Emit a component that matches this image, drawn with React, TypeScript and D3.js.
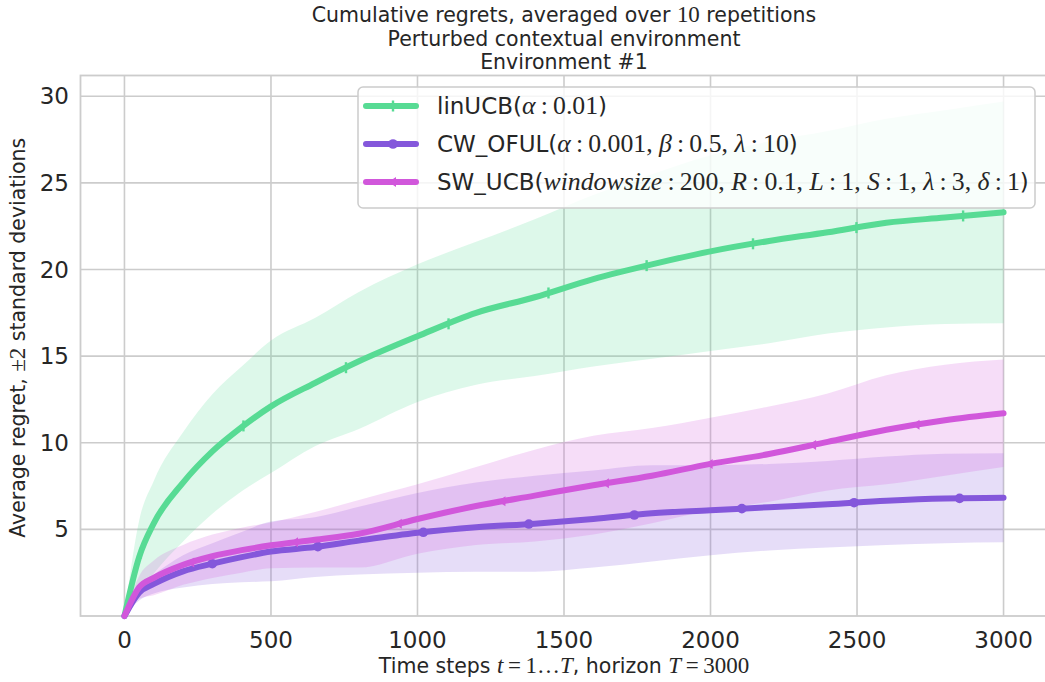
import React from "react";
import * as d3 from "d3";

// Time steps at which the averaged regret curves are sampled
const steps = [0, 50, 100, 200, 300, 400, 500, 650, 800, 1000, 1200, 1400, 1600, 1800, 2000, 2200, 2400, 2600, 2800, 3000];

// linUCB (alpha = 0.01)
const linMean = [0, 3.4, 5.35, 7.7, 9.5, 10.9, 12.1, 13.45, 14.7, 16.15, 17.5, 18.4, 19.45, 20.3, 21.05, 21.65, 22.15, 22.7, 23.0, 23.3];
const linLower = [0, 1.3, 2.45, 4.3, 5.9, 7.2, 8.25, 9.8, 10.8, 12.35, 13.35, 13.85, 14.4, 14.85, 15.3, 15.75, 16.3, 16.65, 16.85, 16.9];
const linUpper = [0, 5.5, 7.8, 10.6, 12.8, 14.4, 15.9, 17.2, 18.7, 20.3, 21.6, 22.9, 24.3, 25.5, 26.6, 27.4, 28.0, 28.7, 29.2, 29.7];

// CW_OFUL
const cwMean = [0, 1.35, 1.85, 2.58, 3.02, 3.4, 3.72, 3.98, 4.35, 4.8, 5.12, 5.33, 5.6, 5.93, 6.1, 6.28, 6.45, 6.65, 6.78, 6.82];
const cwLower = [0, 0.9, 1.3, 1.65, 1.85, 1.95, 2.0, 2.25, 2.4, 2.5, 2.56, 2.56, 2.8, 3.15, 3.5, 3.78, 3.95, 4.1, 4.2, 4.25];
const cwUpper = [0, 1.8, 2.4, 3.5, 4.2, 4.85, 5.45, 5.7, 6.3, 7.1, 7.7, 8.1, 8.4, 8.7, 8.7, 8.78, 8.95, 9.2, 9.36, 9.4];

// SW_UCB
const swMean = [0, 1.65, 2.2, 2.95, 3.45, 3.8, 4.08, 4.4, 4.75, 5.6, 6.35, 6.95, 7.55, 8.1, 8.78, 9.35, 10.05, 10.75, 11.3, 11.7];
const swLower = [0, 1.0, 1.2, 1.8, 2.2, 2.5, 2.76, 2.8, 2.8, 3.6, 4.1, 4.3, 4.7, 5.35, 6.1, 6.6, 7.25, 7.6, 8.1, 8.6];
const swUpper = [0, 2.3, 3.2, 4.1, 4.7, 5.1, 5.4, 6.0, 6.7, 7.6, 8.6, 9.6, 10.4, 10.85, 11.45, 12.1, 12.85, 13.9, 14.5, 14.8];

// Time steps carrying a marker on each curve
const linMarks = [56, 406, 756, 1106, 1447, 1782, 2145, 2498, 2862];
const cwMarks = [300, 660, 1020, 1380, 1740, 2107, 2490, 2850];
const swMarks = [228, 582, 936, 1290, 1643, 1997, 2350, 2703];

const xTicks = [0, 500, 1000, 1500, 2000, 2500, 3000];
const yTicks = [5, 10, 15, 20, 25, 30];

const GREEN = "#57db94";
const PURPLE = "#8457db";
const MAGENTA = "#d157db";

const SANS = "'DejaVu Sans', sans-serif";
const MATH = "'Liberation Serif', 'DejaVu Serif', serif";
const TEXT = "#262626";
const GRID = "#cccccc";

type Seg = [string, "s" | "m" | "i"];

function Rich({ segs, ...rest }: { segs: Seg[] } & React.SVGProps<SVGTextElement>) {
  return (
    <text {...rest}>
      {segs.map(([t, k], i) => (
        <tspan
          key={i}
          fontFamily={k === "s" ? SANS : MATH}
          fontStyle={k === "i" ? "italic" : "normal"}
          fontSize={k === "s" ? undefined : "1.12em"}
        >
          {t}
        </tspan>
      ))}
    </text>
  );
}

const W = 1045;
const H = 682;
const left = 80.5;
const right = 1047.5;
const top = 75.5;
const bottom = 616;

export default function App() {
  const x = d3.scaleLinear().domain([-150, 3150]).range([left, right]);
  const y = d3.scaleLinear().domain([0, 31.2]).range([bottom, top]);

  const line = (vals: number[]) =>
    d3
      .line<number>()
      .x((_, i) => x(steps[i]))
      .y((v) => y(v))
      .curve(d3.curveMonotoneX)(vals) as string;

  const band = (lo: number[], hi: number[]) =>
    d3
      .area<number>()
      .x((_, i) => x(steps[i]))
      .y0((_, i) => y(lo[i]))
      .y1((_, i) => y(hi[i]))
      .curve(d3.curveMonotoneX)(lo) as string;

  const at = (vals: number[], t: number) => d3.scaleLinear().domain(steps).range(vals)(t);

  const series = [
    { name: "lin", mean: linMean, lo: linLower, hi: linUpper, color: GREEN, marks: linMarks, marker: "bar" },
    { name: "cw", mean: cwMean, lo: cwLower, hi: cwUpper, color: PURPLE, marks: cwMarks, marker: "dot" },
    { name: "sw", mean: swMean, lo: swLower, hi: swUpper, color: MAGENTA, marks: swMarks, marker: "tri" },
  ];

  const marker = (kind: string, cx: number, cy: number, color: string, key: string) => {
    if (kind === "dot") return <circle key={key} cx={cx} cy={cy} r={4.8} fill={color} />;
    if (kind === "tri")
      return (
        <path key={key} d={`M${cx - 4.5},${cy} L${cx + 3},${cy - 5} L${cx + 3},${cy + 5} Z`} fill={color} />
      );
    return <rect key={key} x={cx - 1.2} y={cy - 5.5} width={2.4} height={11} fill={color} />;
  };

  const legendRows: { color: string; marker: string; segs: Seg[] }[] = [
    { color: GREEN, marker: "bar", segs: [["linUCB(", "s"], ["α", "i"], ["\u2009:\u20090.01", "m"], [")", "s"]] },
    {
      color: PURPLE,
      marker: "dot",
      segs: [
        ["CW_OFUL(", "s"],
        ["α", "i"],
        ["\u2009:\u20090.001, ", "m"],
        ["β", "i"],
        ["\u2009:\u20090.5, ", "m"],
        ["λ", "i"],
        ["\u2009:\u200910", "m"],
        [")", "s"],
      ],
    },
    {
      color: MAGENTA,
      marker: "tri",
      segs: [
        ["SW_UCB(", "s"],
        ["windowsize", "i"],
        ["\u2009:\u2009200, ", "m"],
        ["R", "i"],
        ["\u2009:\u20090.1, ", "m"],
        ["L", "i"],
        ["\u2009:\u20091, ", "m"],
        ["S", "i"],
        ["\u2009:\u20091, ", "m"],
        ["λ", "i"],
        ["\u2009:\u20093, ", "m"],
        ["δ", "i"],
        ["\u2009:\u20091", "m"],
        [")", "s"],
      ],
    },
  ];

  return (
    <svg width={W} height={H} style={{ position: "absolute", left: 0, top: 0, background: "#fff" }}>
      <rect x={0} y={0} width={W} height={H} fill="#fff" />

      {/* grid */}
      <g stroke={GRID} strokeWidth={1.6}>
        {xTicks.map((t) => (
          <line key={"gx" + t} x1={x(t)} x2={x(t)} y1={top} y2={bottom} />
        ))}
        {yTicks.map((t) => (
          <line key={"gy" + t} x1={left} x2={right} y1={y(t)} y2={y(t)} />
        ))}
      </g>

      {/* frame */}
      <rect x={left} y={top} width={right - left} height={bottom - top} fill="none" stroke={GRID} strokeWidth={1.8} />

      {/* +-2 std bands */}
      {series.map((s) => (
        <path key={"b" + s.name} d={band(s.lo, s.hi)} fill={s.color} fillOpacity={0.2} stroke="none" />
      ))}

      {/* mean regret curves */}
      {series.map((s) => (
        <g key={"l" + s.name}>
          <path d={line(s.mean)} fill="none" stroke={s.color} strokeWidth={6} strokeLinecap="round" strokeLinejoin="round" />
          {s.marks.map((t, i) => marker(s.marker, x(t), y(at(s.mean, t)), s.color, s.name + i))}
        </g>
      ))}

      {/* tick labels */}
      <g fill={TEXT} fontFamily={SANS} fontSize={23}>
        {xTicks.map((t) => (
          <text key={"tx" + t} x={x(t)} y={648} textAnchor="middle">
            {t}
          </text>
        ))}
        {yTicks.map((t) => (
          <text key={"ty" + t} x={69} y={y(t) + 8} textAnchor="end">
            {t}
          </text>
        ))}
      </g>

      {/* axis labels */}
      <Rich
        segs={[["Time steps ", "s"], ["t", "i"], ["\u2009=\u20091\u2026", "m"], ["T", "i"], [", horizon ", "s"], ["T", "i"], ["\u2009=\u20093000", "m"]]}
        x={(left + right) / 2}
        y={673}
        textAnchor="middle"
        fill={TEXT}
        fontSize={20.5}
        fontFamily={SANS}
      />
      <Rich
        segs={[["Average regret, ", "s"], ["±2", "m"], [" standard deviations", "s"]]}
        transform={`translate(25,${(top + bottom) / 2 - 8}) rotate(-90)`}
        textAnchor="middle"
        fill={TEXT}
        fontSize={20.5}
        fontFamily={SANS}
      />

      {/* title */}
      <g fill={TEXT} fontFamily={SANS} fontSize={20.5} textAnchor="middle">
        <Rich segs={[["Cumulative regrets, averaged over ", "s"], ["10", "m"], [" repetitions", "s"]]} x={(left + right) / 2} y={22} />
        <text x={(left + right) / 2} y={46}>Perturbed contextual environment</text>
        <text x={(left + right) / 2} y={69}>Environment #1</text>
      </g>

      {/* legend */}
      <g>
        <rect x={358} y={87} width={677} height={121} rx={5} fill="#fff" fillOpacity={0.8} stroke={GRID} strokeWidth={1.5} />
        {legendRows.map((r, i) => {
          const cy = 106 + i * 38;
          return (
            <g key={"lg" + i}>
              <line x1={366} x2={416} y1={cy} y2={cy} stroke={r.color} strokeWidth={6} strokeLinecap="round" />
              {marker(r.marker, 393, cy, r.color, "lm" + i)}
              <Rich segs={r.segs} x={437} y={cy + 8} fill={TEXT} fontSize={23} fontFamily={SANS} />
            </g>
          );
        })}
      </g>
    </svg>
  );
}
